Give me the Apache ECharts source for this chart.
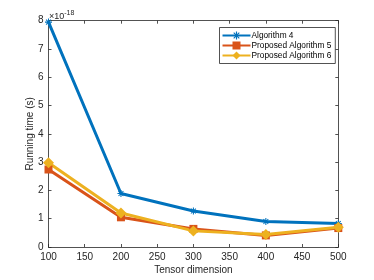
<!DOCTYPE html>
<html><head><meta charset="utf-8">
<script src="https://cdn.jsdelivr.net/npm/echarts@6/dist/echarts.min.js"></script>
<style>html,body{margin:0;padding:0;background:#fff}#c{width:374px;height:280px}</style>
</head><body><div id="c"></div>
<script>
const dims = [100, 200, 300, 400, 500];
const alg4 = [7.95, 1.89, 1.27, 0.90, 0.83];
const alg5 = [2.74, 1.05, 0.64, 0.41, 0.67];
const alg6 = [2.98, 1.20, 0.57, 0.44, 0.70];
const names = ['Algorithm 4', 'Proposed Algorithm 5', 'Proposed Algorithm 6'];
const colors = ['#0072BD', '#D95319', '#EDB120'];
const font = 'Liberation Sans, Arial, sans-serif';
const asterisk = 'path://M-0.15,-1L0.15,-1L0.15,1L-0.15,1Z M-1,-0.15L1,-0.15L1,0.15L-1,0.15Z M-0.8,-0.6L-0.6,-0.8L0.8,0.6L0.6,0.8Z M0.6,-0.8L0.8,-0.6L-0.6,0.8L-0.8,0.6Z';
const pairs = a => dims.map((d, i) => [d, a[i]]);
const chart = echarts.init(document.getElementById('c'), null, {renderer: 'canvas'});
const axCol = '#262626';
const baseX = {type: 'value', min: 100, max: 500, interval: 50,
  axisLine: {show: true, onZero: false, lineStyle: {color: axCol, width: 0.8}},
  axisTick: {show: true, inside: true, length: 3, lineStyle: {color: axCol, width: 0.8}},
  splitLine: {show: false}};
const baseY = {type: 'value', min: 0, max: 8, interval: 1,
  axisLine: {show: true, onZero: false, lineStyle: {color: axCol, width: 0.8}},
  axisTick: {show: true, inside: true, length: 3, lineStyle: {color: axCol, width: 0.8}},
  splitLine: {show: false}};
function mk(name, data, color, symbol, size) {
  return {name, type: 'line', data: pairs(data), xAxisIndex: 0, yAxisIndex: 0,
    symbol, symbolSize: size, showSymbol: true,
    lineStyle: {color, width: 3}, itemStyle: {color, borderColor: color, borderWidth: 0},
    emphasis: {disabled: true}, animation: false};
}
chart.setOption({
  animation: false,
  grid: {left: 48.5, right: 35.7, top: 20.7, bottom: 31, containLabel: false},
  textStyle: {fontFamily: font},
  xAxis: [
    Object.assign({}, baseX, {position: 'bottom', name: 'Tensor dimension', nameLocation: 'middle', nameGap: 18,
      nameMoveOverlap: false,
      nameTextStyle: {color: axCol, fontSize: 10, fontFamily: font},
      axisLabel: {color: axCol, fontSize: 10, fontFamily: font, margin: 5}}),
    Object.assign({}, baseX, {position: 'top', axisLabel: {show: false}})
  ],
  yAxis: [
    Object.assign({}, baseY, {position: 'left', name: 'Running time (s)', nameLocation: 'middle', nameGap: 13,
      nameMoveOverlap: false,
      nameTextStyle: {color: axCol, fontSize: 10, fontFamily: font},
      axisLabel: {color: axCol, fontSize: 10, fontFamily: font, margin: 5}}),
    Object.assign({}, baseY, {position: 'right', axisLabel: {show: false}})
  ],
  legend: {
    data: names, orient: 'vertical', left: 219.5, top: 27.5,
    padding: [4, 4, 4, 2], itemGap: 2, itemWidth: 28, itemHeight: 10,
    borderColor: '#262626', borderWidth: 0.8, backgroundColor: '#fff',
    textStyle: {color: '#000', fontSize: 8.3, fontFamily: font, padding: [0, 0, 0, -4]},
    itemStyle: {borderWidth: 0}
  },
  graphic: [{type: 'text', left: 49, top: 10,
    style: {text: '×10{s|-18}', fill: axCol, font: '9px ' + font,
      rich: {s: {fontSize: 7, verticalAlign: 'top', padding: [0, 0, 6, 0], fill: axCol}}}}],
  series: [
    mk(names[0], alg4, colors[0], asterisk, 7),
    mk(names[1], alg5, colors[1], 'rect', 8),
    mk(names[2], alg6, colors[2], 'diamond', 11)
  ]
});
</script></body></html>
